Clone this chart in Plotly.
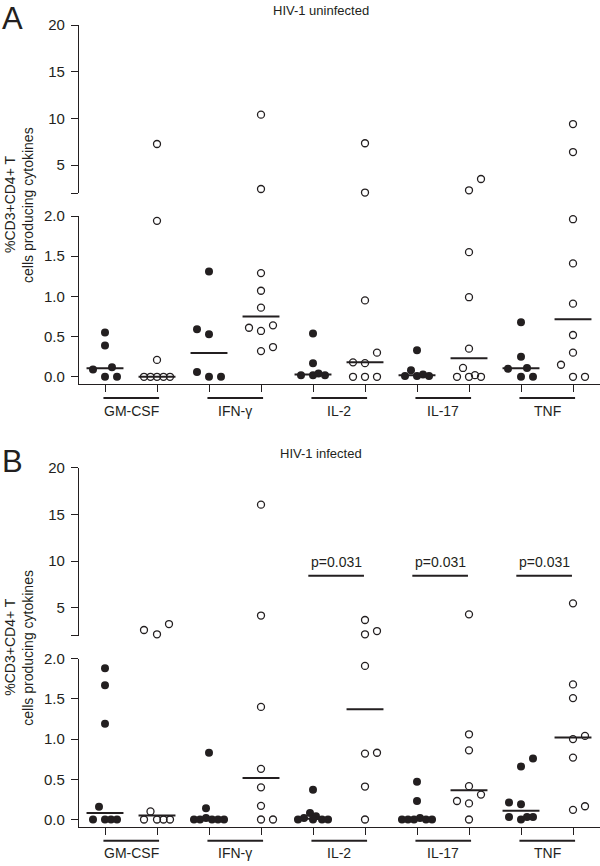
import numpy as np
import plotly.graph_objects as go

# ---------------- data ----------------
CYTOKINES = ["GM-CSF", "IFN-γ", "IL-2", "IL-17", "TNF"]
PANEL_TITLES = ["HIV-1 uninfected", "HIV-1 infected"]
PANEL_LETTERS = ["A", "B"]
Y_TITLE_LINES = ["%CD3+CD4+ T", "cells producing cytokines"]
LOWER_TICKS = [0.0, 0.5, 1.0, 1.5, 2.0]
LOWER_TICK_TEXT = ["0.0", "0.5", "1.0", "1.5", "2.0"]
UPPER_TICKS = [2, 5, 10, 15, 20]
UPPER_TICK_TEXT = ["", "5", "10", "15", "20"]
AXIS_BREAK = 2.0
UPPER_MAX = 20
P_VALUES_B = {"IL-2": "p=0.031", "IL-17": "p=0.031", "TNF": "p=0.031"}

# HIV-1 uninfected: filled (first group) and open (second group)
A_FILLED = {
    "GM-CSF": [0.55, 0.39, 0.12, 0.09, 0.0, 0.0],
    "IFN-γ": [1.31, 0.59, 0.53, 0.06, 0.0, 0.0],
    "IL-2": [0.54, 0.17, 0.02, 0.02, 0.04, 0.02],
    "IL-17": [0.33, 0.08, 0.01, 0.01, 0.03, 0.01],
    "TNF": [0.68, 0.25, 0.10, 0.11, 0.0, 0.0],
}
A_OPEN = {
    "GM-CSF": [7.25, 1.94, 0.21, 0.0, 0.0, 0.0, 0.0, 0.0],
    "IFN-γ": [10.39, 2.43, 1.29, 1.07, 0.86, 0.61, 0.57, 0.64, 0.32, 0.37],
    "IL-2": [7.33, 2.05, 0.95, 0.30, 0.18, 0.17, 0.0, 0.0, 0.0],
    "IL-17": [3.5, 2.29, 1.55, 0.99, 0.35, 0.11, 0.0, 0.0, 0.02, 0.0],
    "TNF": [9.39, 6.39, 1.96, 1.41, 0.91, 0.52, 0.30, 0.15, 0.0, 0.0],
}
# HIV-1 infected
B_FILLED = {
    "GM-CSF": [1.88, 1.67, 1.19, 0.16, 0.0, 0.0, 0.0, 0.0],
    "IFN-γ": [0.83, 0.14, 0.0, 0.0, 0.02, 0.0, 0.0, 0.0],
    "IL-2": [0.37, 0.08, 0.04, 0.02, 0.0, 0.0, 0.0, 0.0],
    "IL-17": [0.47, 0.23, 0.02, 0.0, 0.0, 0.0, 0.0, 0.0],
    "TNF": [0.76, 0.66, 0.21, 0.19, 0.03, 0.0, 0.03, 0.03],
}
B_OPEN = {
    "GM-CSF": [3.25, 2.61, 2.15, 0.10, 0.0, 0.0, 0.0, 0.0],
    "IFN-γ": [16.04, 4.16, 1.40, 0.63, 0.40, 0.17, 0.0, 0.0],
    "IL-2": [3.68, 2.5, 2.15, 1.91, 0.83, 0.82, 0.41, 0.0],
    "IL-17": [4.29, 1.06, 0.86, 0.415, 0.31, 0.23, 0.20, 0.0],
    "TNF": [5.47, 1.68, 1.51, 1.00, 1.04, 0.77, 0.12, 0.165],
}

# ---------------- layout (swarm offsets in pixels, styles) ----------------
A_FILLED_DX = {
    "GM-CSF": [0, 0, 7, -12, 0, 12],
    "IFN-γ": [0, -12, 0, -12, 0, 12],
    "IL-2": [0, 0, -12, 0, 5.5, 12],
    "IL-17": [0, -6, -12, 0, 6, 12],
    "TNF": [0, 0, -13, 6, 0, 12],
}
A_OPEN_DX = {
    "GM-CSF": [0, 0, 0, -13, -6.5, 0, 6.5, 13],
    "IFN-γ": [0, 0, 0, 0, 0, -12, 0, 12, 0, 12],
    "IL-2": [0, 0, 0, 12, -12, 0, -12, 0, 12],
    "IL-17": [12, 0, 0, 0, 0, -6, -12, 0, 6, 12],
    "TNF": [0, 0, 0, 0, 0, 0, 0, -12, 0, 12],
}
B_FILLED_DX = {
    "GM-CSF": [0, 0, 0, -6, -12, 0, 6, 12],
    "IFN-γ": [0, -3, -15, -9, -3, 3, 9, 15],
    "IL-2": [0, -3, 3, -9, -15, 9, 15, 0],
    "IL-17": [0, 0, 3, -15, -9, -3, 9, 15],
    "TNF": [12, 0, -12, 0, -12, 0, 6, 12],
}
B_OPEN_DX = {
    "GM-CSF": [12, -13, 0, -6.5, -13, 0, 6.5, 13],
    "IFN-γ": [0, 0, 0, 0, 0, 0, 0, 12],
    "IL-2": [0, 12, 0, 0, 12, 0, 0, 0],
    "IL-17": [0, 0, 0, 0, 12, -12, 0, 0],
    "TNF": [0, 0, 0, 0, 12, 0, 0, 12],
}

W, H = 600, 866
FONT = "Liberation Sans, Arial, Helvetica, sans-serif"
INK = "#231f20"
X_LEFT_PX, X_RIGHT_PX = 79, 600
GROUP0_PX, STEP_PX = 105.0, 52.0
PANEL_SHIFT = [0.0, 442.7]
UP_TOP, UP_BOT = 25.0, 193.0
LO_TOP, LO_BOT = 216.0, 384.0
LO_PX_PER_UNIT = 80.4


def py(p):
    return 1 - p / H


x_range = [(X_LEFT_PX - GROUP0_PX) / STEP_PX, (X_RIGHT_PX - GROUP0_PX) / STEP_PX]
lower_range = [AXIS_BREAK - (LO_BOT - LO_TOP) / LO_PX_PER_UNIT, AXIS_BREAK]
upper_range = [AXIS_BREAK, UPPER_MAX]

fig = go.Figure()
layout = dict(
    width=W, height=H, autosize=False,
    margin=dict(l=0, r=0, t=0, b=0, pad=0, autoexpand=False),
    paper_bgcolor="white", plot_bgcolor="rgba(0,0,0,0)",
    showlegend=False,
    font=dict(family=FONT, color=INK, size=14),
)
shapes, annotations = [], []

panels = [(A_FILLED, A_OPEN, A_FILLED_DX, A_OPEN_DX),
          (B_FILLED, B_OPEN, B_FILLED_DX, B_OPEN_DX)]


def key(s):
    return s[0] + "axis" + s[1:]


for k, (filled, opened, fdx, odx) in enumerate(panels):
    off = PANEL_SHIFT[k]
    xl, yl = ("x", "y") if k == 0 else ("x3", "y3")
    xu, yu = ("x2", "y2") if k == 0 else ("x4", "y4")

    axis_common = dict(showline=True, linecolor=INK, linewidth=1.2, ticks="outside",
                       ticklen=7, tickwidth=1.2, tickcolor=INK, showgrid=False,
                       zeroline=False, automargin=False,
                       tickfont=dict(family=FONT, size=15, color=INK))
    layout[key(xl)] = dict(axis_common, domain=[X_LEFT_PX / W, X_RIGHT_PX / W], range=x_range,
                           anchor=yl, tickvals=list(range(10)), showticklabels=False)
    layout[key(xu)] = dict(domain=[X_LEFT_PX / W, X_RIGHT_PX / W], range=x_range,
                           anchor=yu, visible=False, automargin=False)
    layout[key(yl)] = dict(axis_common, domain=[py(LO_BOT + off), py(LO_TOP + off)],
                           range=lower_range, anchor=xl, tickvals=LOWER_TICKS,
                           ticktext=LOWER_TICK_TEXT, ticklabelstandoff=3)
    layout[key(yu)] = dict(axis_common, domain=[py(UP_BOT + off), py(UP_TOP + off)],
                           range=upper_range, anchor=xu, tickvals=UPPER_TICKS,
                           ticktext=UPPER_TICK_TEXT, ticklabelstandoff=3)

    for i, cyt in enumerate(CYTOKINES):
        for g, (vals_d, dx_d) in enumerate([(filled, fdx), (opened, odx)]):
            pos = 2 * i + g
            vals = np.array(vals_d[cyt], dtype=float)
            xs = pos + np.array(dx_d[cyt], dtype=float) / STEP_PX
            if g == 0:
                marker = dict(symbol="circle", size=8, color=INK, line=dict(width=0))
            else:
                marker = dict(symbol="circle-open", size=7, color=INK, line=dict(width=1.3, color=INK))
            lo = vals <= AXIS_BREAK
            fig.add_trace(go.Scatter(x=xs[lo], y=vals[lo], mode="markers", marker=marker,
                                     xaxis=xl, yaxis=yl, hoverinfo="skip", cliponaxis=False))
            if (~lo).any():
                fig.add_trace(go.Scatter(x=xs[~lo], y=vals[~lo], mode="markers", marker=marker,
                                         xaxis=xu, yaxis=yu, hoverinfo="skip", cliponaxis=False))
            med = float(np.median(vals))
            fig.add_trace(go.Scatter(x=[pos - 0.355, pos + 0.355], y=[med, med], mode="lines",
                                     line=dict(color=INK, width=2), xaxis=xl, yaxis=yl,
                                     hoverinfo="skip", cliponaxis=False))
        # category bracket + label
        shapes.append(dict(type="line", xref=xl, yref="paper", x0=2 * i - 0.03, x1=2 * i + 1.04,
                           y0=py(398 + off), y1=py(398 + off), line=dict(color=INK, width=2)))
        annotations.append(dict(text=cyt, xref=xl, yref="paper", x=2 * i + 0.5, y=py(410.5 + off),
                                showarrow=False, xanchor="center", yanchor="middle",
                                font=dict(family=FONT, size=14, color=INK)))
        if k == 1 and cyt in P_VALUES_B:
            shapes.append(dict(type="line", xref=xu, yref=yu, x0=2 * i - 0.09, x1=2 * i + 0.98,
                               y0=8.43, y1=8.43, line=dict(color=INK, width=2)))
            annotations.append(dict(text=P_VALUES_B[cyt], xref=xu, yref=yu, x=2 * i + 0.445,
                                    y=9.85, showarrow=False, xanchor="center", yanchor="middle",
                                    font=dict(family=FONT, size=14, color=INK)))

    annotations.append(dict(text=PANEL_TITLES[k], xref="paper", yref="paper", x=321 / W,
                            y=py(11 + off), showarrow=False, xanchor="center", yanchor="middle",
                            font=dict(family=FONT, size=13, color=INK)))
    annotations.append(dict(text=PANEL_LETTERS[k], xref="paper", yref="paper", x=12 / W,
                            y=py(19 + off), showarrow=False, xanchor="center", yanchor="middle",
                            font=dict(family=FONT, size=31, color=INK)))
    for line, xc in zip(Y_TITLE_LINES, [10, 28]):
        annotations.append(dict(text=line, xref="paper", yref="paper", x=xc / W,
                                y=py(205 + off), showarrow=False, textangle=-90,
                                xanchor="center", yanchor="middle",
                                font=dict(family=FONT, size=14, color=INK)))

layout["shapes"] = shapes
layout["annotations"] = annotations
fig.update_layout(**layout)
# remove the browser's default 8px page margin so the 600x866 figure fills the window
fig.write_html("out.html", config={"displayModeBar": False},
               post_script="document.body.style.margin='0';")
